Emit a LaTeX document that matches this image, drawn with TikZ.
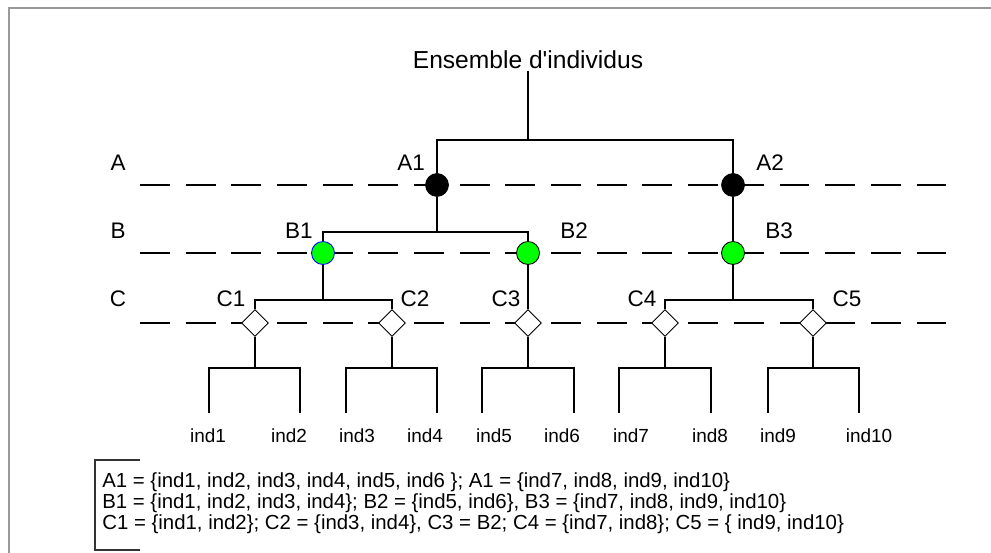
\documentclass[tikz,border=0pt]{standalone}
\usepackage{fontspec}
\setmainfont{Liberation Sans}
\usetikzlibrary{shapes.geometric,positioning}
\definecolor{vert}{RGB}{0,255,0}
\definecolor{cadre}{RGB}{153,153,153}
\tikzset{
  niveau/.style={line width=1.1pt,dash pattern=on 17pt off 9pt},
  lien/.style={line width=0.6pt},
  noeudA/.style={circle,draw=black,fill=black,minimum size=0.46cm,inner sep=0pt},
  noeudB/.style={circle,draw=black,line width=0.5pt,fill=vert,minimum size=0.46cm,inner sep=0pt},
  noeudC/.style={diamond,draw=black,line width=0.5pt,fill=white,minimum size=0.54cm,inner sep=0pt},
  etiq/.style={font=\fontsize{12.8}{14}\selectfont,inner sep=0pt},
  feuille/.style={font=\fontsize{10.8}{12}\selectfont,inner sep=0pt,anchor=base},
}
\begin{document}
\begin{tikzpicture}[x=0.02cm,y=-0.02cm]
  \useasboundingbox (0,0) rectangle (991,553);
  \draw[cadre,line width=1.4pt] (991,8) -- (9,8) -- (9,553);

  % niveaux A, B, C
  \foreach \y/\n in {185/A,253/B,323/C} {
    \draw[niveau] (140,\y) -- (946,\y);
  }
  \node[etiq] (nivA) at (118,163) {A};
  \node[etiq] (nivB) at (118,231) {B};
  \node[etiq] (nivC) at (118,299) {C};

  \node[font=\fontsize{14}{16}\selectfont,inner sep=0pt] (titre) at (528,60) {Ensemble d\textquotesingle individus};

  \node[noeudA] (A1) at (437,185) {};
  \node[noeudA] (A2) at (733,185) {};
  \node[noeudB,draw=blue] (B1) at (323,253) {};
  \node[noeudB] (B2) at (528,253) {};
  \node[noeudB] (B3) at (733,253) {};
  \foreach \x/\n in {255/1,392/2,528/3,665/4,813/5} {
    \node[noeudC] (C\n) at (\x,323) {};
    \coordinate (jC\n) at (\x,368);
  }

  \node[etiq] (tA1) at (411,163) {A1};
  \node[etiq] (tA2) at (770,163) {A2};
  \node[etiq] (tB1) at (299,231) {B1};
  \node[etiq] (tB2) at (574,231) {B2};
  \node[etiq] (tB3) at (779,231) {B3};
  \node[etiq] (tC1) at (231,299) {C1};
  \node[etiq] (tC2) at (415,299) {C2};
  \node[etiq] (tC3) at (506,299) {C3};
  \node[etiq] (tC4) at (642,299) {C4};
  \node[etiq] (tC5) at (847,299) {C5};

  % liens
  \coordinate (jA) at (528,140);
  \coordinate (jB) at (437,232);
  \coordinate (jB1) at (323,300);
  \coordinate (jB3) at (733,300);
  \draw[lien] (titre.south) ++(0,2) -- (jA);
  \draw[lien] (A1) |- (jA) -| (A2);
  \draw[lien] (A1) -- (jB);
  \draw[lien] (B1) |- (jB) -| (B2);
  \draw[lien] (A2) -- (B3);
  \draw[lien] (B1) -- (jB1);
  \draw[lien] (C1) |- (jB1) -| (C2);
  \draw[lien] (B2) -- (C3);
  \draw[lien] (B3) -- (jB3);
  \draw[lien] (C4) |- (jB3) -| (C5);

  % individus
  \foreach \a/\b/\n/\m in {209/300/1/1,346/437/2/3,482/574/3/5,619/711/4/7,768/859/5/9} {
    \coordinate (l\m) at (\a,413);
    \coordinate (r\n) at (\b,413);
    \draw[lien] (C\n) -- (jC\n);
    \draw[lien] (l\m) |- (jC\n) -| (r\n);
  }
  \foreach \x/\n in {208/1,289/2,357/3,425/4,494/5,562/6,631/7,710/8,778/9,869/10} {
    \node[feuille] (ind\n) at (\x,443) {ind\n};
  }

  % legende
  \draw[lien,black!80] (140,460) -- (95,460) -- (95,550) -- (140,550);
  \node[font=\fontsize{11.6}{11.8}\selectfont,align=left,anchor=west,inner sep=0pt] (legende) at (102,503)
    {A1 = \{ind1, ind2, ind3, ind4, ind5, ind6 \}; A1 = \{ind7, ind8, ind9, ind10\}\\
     B1 = \{ind1, ind2, ind3, ind4\}; B2 = \{ind5, ind6\}, B3 = \{ind7, ind8, ind9, ind10\}\\
     C1 = \{ind1, ind2\}; C2 = \{ind3, ind4\}, C3 = B2; C4 = \{ind7, ind8\}; C5 = \{ ind9, ind10\}};
\end{tikzpicture}
\end{document}
